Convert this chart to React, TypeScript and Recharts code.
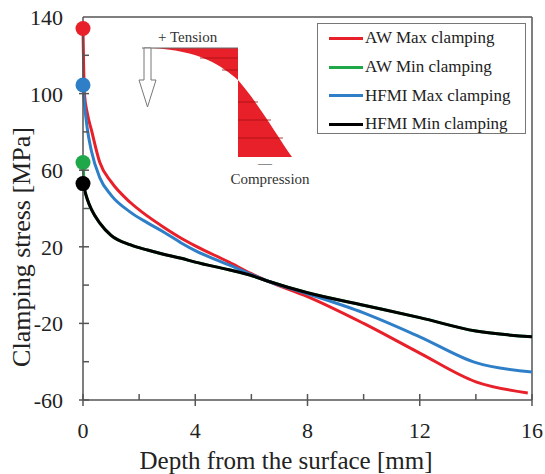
import React from 'react';
import { LineChart, Line, XAxis, YAxis, ReferenceLine, Legend } from 'recharts';

const depthRed = [0, 0.05, 0.15, 0.3, 0.6, 1, 1.7, 2.3, 2.9, 3.5, 4, 5.2, 6, 6.6, 8, 10, 12, 14, 15.85];
const awMax = [134, 100, 90, 81, 64, 54, 43, 36, 30, 24.5, 20.5, 12, 6, 2, -6, -20, -35.5, -50.5, -56.3];

const depthGreen = [0, 0.05, 0.15, 0.3, 0.6, 1, 1.7, 2.3, 2.9, 3.5, 4, 5.2, 6, 6.6, 8, 10, 12, 14, 16];
const awMin = [64, 51, 45, 39.5, 32.4, 26, 21, 18.3, 16, 14, 12, 8, 5, 2, -4, -10.5, -17, -24, -27];

const depthBlue = [0, 0.05, 0.15, 0.3, 0.6, 1, 1.7, 2.3, 2.9, 3.5, 4, 5.2, 6, 6.6, 8, 10, 12, 14, 16];
const hfmiMax = [104.5, 95, 82, 70, 56, 47, 38, 32.5, 27.5, 22, 18, 10.5, 5.5, 2, -4.5, -14.5, -27, -40.5, -45.4];

const depthBlack = [0, 0.05, 0.15, 0.3, 0.6, 1, 1.7, 2.3, 2.9, 3.5, 4, 5.2, 6, 6.6, 8, 10, 12, 14, 16];
const hfmiMin = [53, 50, 45, 39.5, 32.4, 26, 21, 18.3, 16, 14, 12, 8, 5, 2, -4, -10.5, -17, -24, -27];

const xTicks = [0, 2, 4, 6, 8, 10, 12, 14, 16];
const xMajor = [0, 4, 8, 12, 16];
const yTicks = [-60, -40, -20, 0, 20, 40, 60, 80, 100, 120, 140];
const yMajor = [-60, -20, 20, 60, 100, 140];

const seriesNames = ['AW Max clamping', 'AW Min clamping', 'HFMI Max clamping', 'HFMI Min clamping'];
const seriesColors = ['#e8202a', '#1fa84a', '#2f7fc8', '#000000'];

const toData = (xs: number[], ys: number[]) => xs.map((x, i) => ({ x, y: ys[i] }));

const FONT = '"Liberation Serif", "Times New Roman", serif';
const AXIS = '#555';

const XTick = (props: any) => {
  const { x, y, payload } = props;
  const v = payload.value;
  const major = xMajor.includes(v);
  return (
    <g>
      <line x1={x} x2={x} y1={y - 6} y2={major ? y + 6 : y} stroke={AXIS} strokeWidth={1.5} />
      {major && (
        <text x={x} y={y + 38} textAnchor="middle" fontFamily={FONT} fontSize={22} fill="#222">
          {v}
        </text>
      )}
    </g>
  );
};

const YTick = (props: any) => {
  const { x, y, payload } = props;
  const v = payload.value;
  const major = yMajor.includes(v);
  return (
    <g>
      {v !== 140 && (
        <line x1={major ? x - 4 : x} x2={x + 6} y1={y} y2={y} stroke={AXIS} strokeWidth={1.5} />
      )}
      {major && (
        <text x={x - 20} y={y + 8} textAnchor="end" fontFamily={FONT} fontSize={22} fill="#222">
          {v}
        </text>
      )}
    </g>
  );
};

const makeDot = (color: string) => (props: any) => {
  const { cx, cy, index } = props;
  if (index !== 0) return <g key={`d${index}`} />;
  return <circle key={`d${index}`} cx={cx} cy={cy} r={7.5} fill={color} stroke="none" />;
};

const LegendBox = () => (
  <div
    style={{
      width: 209,
      height: 111,
      border: '1.5px solid #777',
      boxSizing: 'border-box',
      background: '#fff',
      paddingTop: 0,
      fontFamily: FONT,
    }}
  >
    {seriesNames.map((n, i) => (
      <div key={n} style={{ display: 'flex', alignItems: 'center', height: 28.7 }}>
        <div style={{ width: 34, height: 3, background: seriesColors[i], marginLeft: 11, marginRight: 2 }} />
        <span style={{ fontSize: 17, color: '#222', whiteSpace: 'nowrap' }}>{n}</span>
      </div>
    ))}
  </div>
);

const Inset = () => (
  <svg width={545} height={474} style={{ position: 'absolute', left: 0, top: 0, pointerEvents: 'none' }}>
    <path d="M150,48 L238,48 L238,80 C222,66 200,50 150,48 Z" fill="#e8202a" />
    <path d="M238,80 L238,157 L292,157 C276,134 258,103 238,80 Z" fill="#e8202a" />
    <line x1={200} x2={238} y1={58} y2={58} stroke="#a01010" strokeWidth={0.8} />
    <line x1={222} x2={238} y1={70} y2={70} stroke="#a01010" strokeWidth={0.8} />
    <line x1={238} x2={258} y1={102} y2={102} stroke="#a01010" strokeWidth={0.8} />
    <line x1={238} x2={271} y1={120} y2={120} stroke="#a01010" strokeWidth={0.8} />
    <line x1={238} x2={283} y1={138} y2={138} stroke="#a01010" strokeWidth={0.8} />
    <line x1={142} x2={238} y1={48} y2={48} stroke="#666" strokeWidth={1} />
    <path d="M144,48 L151,48 L151,80 L156,80 L147.5,107 L139,80 L144,80 Z" fill="#fff" stroke="#777" strokeWidth={1} />
    <text x={158} y={42} fontFamily={FONT} fontSize={15} fill="#333">+ Tension</text>
    <text x={265} y={168} textAnchor="middle" fontFamily={FONT} fontSize={14} fill="#333">—</text>
    <text x={270} y={184} textAnchor="middle" fontFamily={FONT} fontSize={15} fill="#333">Compression</text>
  </svg>
);

export default function App() {
  const series = [
    toData(depthRed, awMax),
    toData(depthGreen, awMin),
    toData(depthBlue, hfmiMax),
    toData(depthBlack, hfmiMin),
  ];
  return (
    <div style={{ position: 'absolute', left: 0, top: 0, width: 545, height: 474, background: '#fff', overflow: 'hidden' }}>
      <LineChart width={545} height={474} margin={{ top: 17, right: 13, left: 0, bottom: 0 }}>
        <XAxis
          dataKey="x"
          type="number"
          domain={[0, 16]}
          ticks={xTicks}
          interval={0}
          tick={<XTick />}
          tickLine={false}
          tickSize={0}
          tickMargin={0}
          height={74}
          axisLine={{ stroke: AXIS, strokeWidth: 1.5 }}
          allowDuplicatedCategory={false}
        />
        <YAxis
          type="number"
          domain={[-60, 140]}
          ticks={yTicks}
          interval={0}
          tick={<YTick />}
          tickLine={false}
          tickSize={0}
          tickMargin={0}
          width={83}
          axisLine={{ stroke: AXIS, strokeWidth: 1.5 }}
        />
        <ReferenceLine y={140} stroke={AXIS} strokeWidth={1.5} />
        <ReferenceLine x={16} stroke={AXIS} strokeWidth={1.5} />
        <Legend
          layout="vertical"
          align="center"
          verticalAlign="middle"
          wrapperStyle={{ left: 317, top: 23, width: 209, height: 111 }}
          content={() => <LegendBox />}
        />
        {series.map((d, i) => (
          <Line
            key={seriesNames[i]}
            data={d}
            dataKey="y"
            name={seriesNames[i]}
            type="monotone"
            stroke={seriesColors[i]}
            strokeWidth={3}
            dot={makeDot(seriesColors[i])}
            activeDot={false}
            isAnimationActive={false}
          />
        ))}
      </LineChart>
      <Inset />
      <div
        style={{
          position: 'absolute',
          left: 22,
          top: 247,
          transform: 'translate(-50%, -50%) rotate(-90deg)',
          whiteSpace: 'nowrap',
          fontFamily: FONT,
          fontSize: 26,
          lineHeight: '28px',
          color: '#222',
        }}
      >
        Clamping stress [MPa]
      </div>
      <div
        style={{
          position: 'absolute',
          left: 286,
          top: 460,
          transform: 'translate(-50%, -50%)',
          whiteSpace: 'nowrap',
          fontFamily: FONT,
          fontSize: 25,
          lineHeight: '27px',
          color: '#222',
        }}
      >
        Depth from the surface [mm]
      </div>
    </div>
  );
}
